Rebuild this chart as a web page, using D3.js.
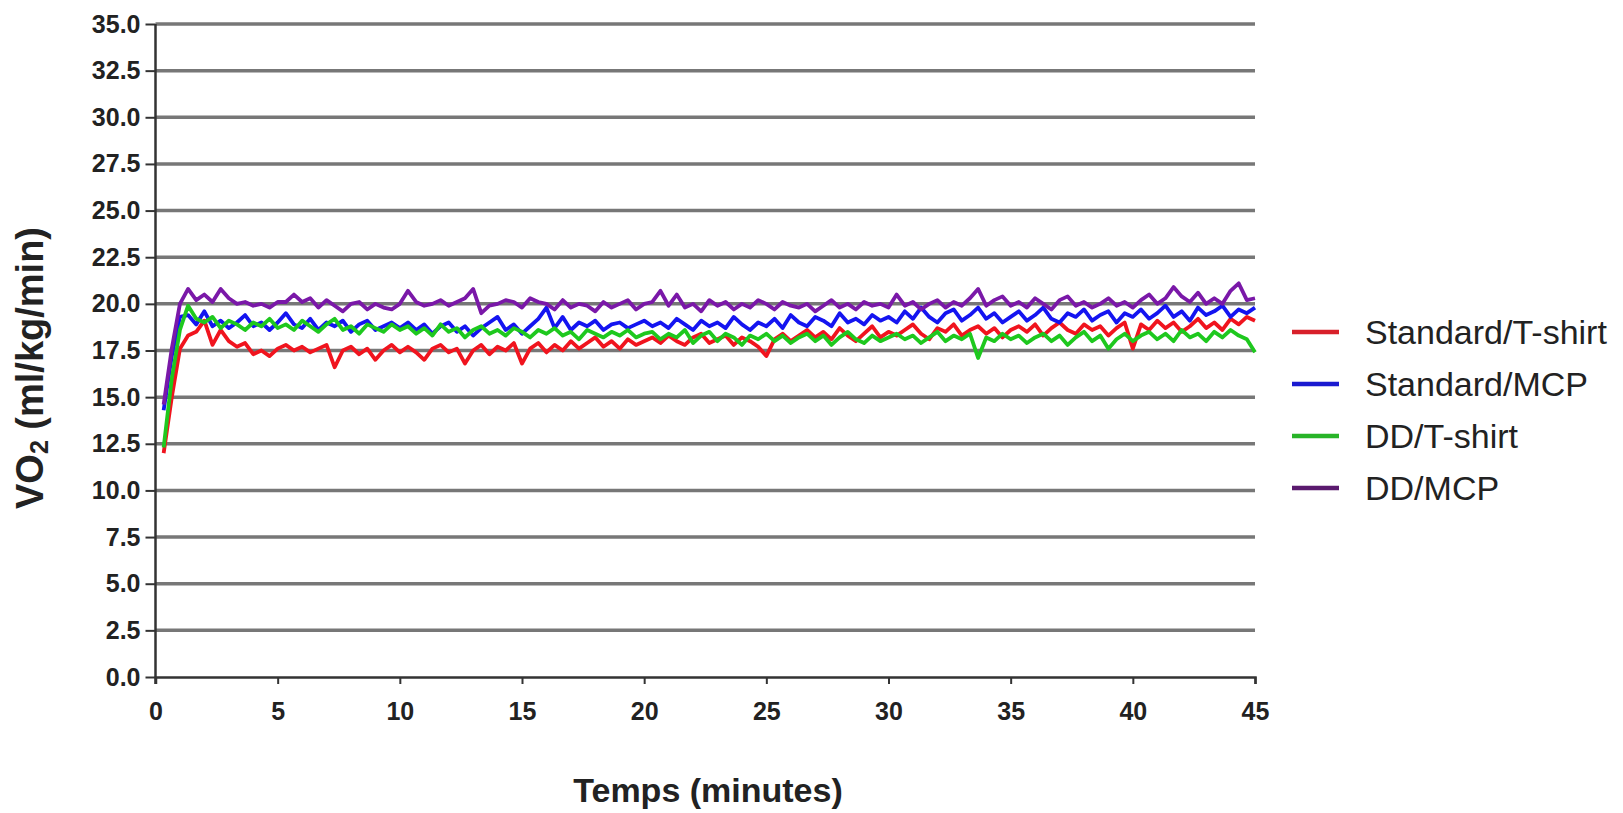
<!DOCTYPE html>
<html>
<head>
<meta charset="utf-8">
<script src="https://cdn.jsdelivr.net/npm/d3@7"></script>
<style>
  body { margin: 0; background: #fff; }
  svg { display: block; font-family: "Liberation Sans", Arial, sans-serif; }
</style>
</head>
<body>
<svg id="chart" width="1623" height="813"></svg>
<script>
// series names and colours, in drawing order
var seriesNames = ['Standard/T-shirt', 'Standard/MCP', 'DD/T-shirt', 'DD/MCP'];
var lineColors = ['#f0141e', '#1414f0', '#1ec81e', '#7a18a8'];
var legendColors = ['#d8202a', '#1a1ad0', '#28b428', '#5a1a6e'];

// one sample every 20 s, from 0.33 to 45 min
var times = d3.range(1, 136).map(function(i) { return i / 3; });

var standardTshirt = [
  12.0, 15.0, 17.6, 18.3, 18.5, 19.1, 17.8, 18.6, 18.0, 17.7, 17.9, 17.3, 17.5, 17.2, 17.6,
  17.8, 17.5, 17.7, 17.4, 17.6, 17.8, 16.6, 17.5, 17.7, 17.3, 17.6, 17.0, 17.5, 17.8, 17.4,
  17.7, 17.4, 17.0, 17.6, 17.8, 17.4, 17.6, 16.8, 17.5, 17.8, 17.3, 17.7, 17.5, 17.9, 16.8,
  17.6, 17.9, 17.4, 17.8, 17.5, 18.0, 17.6, 17.9, 18.2, 17.7, 18.0, 17.6, 18.1, 17.8, 18.0,
  18.2, 17.9, 18.3, 18.0, 17.8, 18.2, 18.4, 17.9, 18.1, 18.3, 17.8, 18.2, 18.0, 17.7, 17.2,
  18.1, 18.4, 18.0, 18.3, 18.6, 18.2, 18.5, 18.1, 18.7, 18.3, 18.0, 18.4, 18.8, 18.2, 18.5,
  18.3, 18.6, 18.9, 18.4, 18.1, 18.7, 18.5, 18.9, 18.3, 18.6, 18.8, 18.4, 18.7, 18.2, 18.6,
  18.8, 18.5, 18.9, 18.3, 18.7, 19.0, 18.6, 18.4, 18.9, 18.6, 18.8, 18.3, 18.7, 19.0, 17.6,
  18.9, 18.6, 19.1, 18.7, 19.0, 18.5, 18.8, 19.2, 18.7, 19.0, 18.6, 19.2, 18.9, 19.3, 19.1
];
var standardMcp = [
  14.3, 17.2, 19.3, 19.4, 18.9, 19.6, 18.8, 19.1, 18.7, 19.0, 19.4, 18.8, 19.0, 18.6, 19.0,
  19.5, 18.9, 18.7, 19.2, 18.6, 19.0, 18.8, 19.1, 18.5, 18.9, 19.1, 18.6, 18.8, 19.0, 18.7,
  19.0, 18.6, 18.9, 18.4, 18.8, 19.0, 18.5, 18.8, 18.3, 18.7, 19.0, 19.3, 18.6, 18.9, 18.4,
  18.8, 19.2, 19.8, 18.7, 19.3, 18.6, 19.0, 18.8, 19.1, 18.6, 18.9, 19.0, 18.7, 18.9, 19.1,
  18.8, 19.0, 18.7, 19.2, 18.9, 18.6, 19.1, 18.8, 19.0, 18.7, 19.3, 18.9, 18.6, 19.0, 18.8,
  19.2, 18.7, 19.4, 19.0, 18.8, 19.3, 19.1, 18.8, 19.5, 19.0, 19.2, 18.9, 19.4, 19.1, 19.3,
  19.0, 19.6, 19.2, 19.8, 19.3, 19.0, 19.5, 19.7, 19.1, 19.4, 19.8, 19.2, 19.5, 19.0, 19.3,
  19.6, 19.1, 19.4, 19.8, 19.2, 19.0, 19.5, 19.3, 19.7, 19.1, 19.4, 19.6, 19.0, 19.5, 19.3,
  19.7, 19.2, 19.5, 19.9, 19.3, 19.6, 19.1, 19.8, 19.4, 19.6, 19.9, 19.3, 19.7, 19.5, 19.8
];
var ddTshirt = [
  12.3, 16.0, 18.6, 19.9, 19.2, 19.0, 19.3, 18.7, 19.1, 18.9, 18.6, 19.0, 18.8, 19.2, 18.7,
  18.9, 18.6, 19.1, 18.8, 18.5, 18.9, 19.2, 18.6, 18.8, 18.4, 18.9, 18.7, 18.5, 18.9, 18.6,
  18.8, 18.4, 18.7, 18.3, 18.9, 18.5, 18.7, 18.2, 18.6, 18.8, 18.4, 18.6, 18.3, 18.7, 18.5,
  18.2, 18.6, 18.4, 18.7, 18.3, 18.5, 18.1, 18.6, 18.4, 18.2, 18.5, 18.3, 18.6, 18.2, 18.4,
  18.5, 18.1, 18.4, 18.2, 18.6, 17.9, 18.3, 18.5, 18.0, 18.4, 18.2, 17.8, 18.3, 18.1, 18.4,
  18.0, 18.3, 17.9, 18.2, 18.4, 18.0, 18.3, 17.8, 18.2, 18.5, 18.1, 17.9, 18.3, 18.0, 18.2,
  18.4, 18.1, 18.3, 17.9, 18.2, 18.5, 18.0, 18.3, 18.1, 18.4, 17.1, 18.2, 18.0, 18.4, 18.1,
  18.3, 17.9, 18.2, 18.4, 18.0, 18.3, 17.8, 18.2, 18.5, 18.0, 18.3, 17.6, 18.1, 18.4, 18.0,
  18.3, 18.5, 18.1, 18.4, 18.0, 18.6, 18.2, 18.4, 18.0, 18.5, 18.2, 18.6, 18.3, 18.1, 17.4
];
var ddMcp = [
  14.6, 17.6, 20.0, 20.8, 20.2, 20.5, 20.1, 20.8, 20.3, 20.0, 20.1, 19.9, 20.0, 19.8, 20.1,
  20.1, 20.5, 20.1, 20.3, 19.8, 20.2, 19.9, 19.6, 20.0, 20.1, 19.7, 20.0, 19.8, 19.7, 20.0,
  20.7, 20.1, 19.9, 20.0, 20.2, 19.9, 20.1, 20.3, 20.8, 19.5, 19.9, 20.0, 20.2, 20.1, 19.8,
  20.3, 20.1, 20.0, 19.7, 20.2, 19.8, 20.0, 19.9, 19.6, 20.1, 19.8, 20.0, 20.2, 19.7, 20.0,
  20.1, 20.7, 19.9, 20.5, 19.8, 20.0, 19.6, 20.2, 19.9, 20.1, 19.7, 20.0, 19.8, 20.2, 20.0,
  19.7, 20.1, 19.9, 19.8, 20.0, 19.6, 19.9, 20.2, 19.8, 20.0, 19.7, 20.1, 19.9, 20.0, 19.8,
  20.5, 19.9, 20.1, 19.7, 20.0, 20.2, 19.8, 20.1, 19.9, 20.3, 20.8, 19.9, 20.2, 20.4, 19.9,
  20.1, 19.8, 20.3, 20.0, 19.7, 20.2, 20.4, 19.9, 20.1, 19.8, 20.0, 20.3, 19.9, 20.1, 19.8,
  20.2, 20.5, 20.0, 20.3, 20.9, 20.4, 20.1, 20.6, 20.0, 20.3, 20.0, 20.7, 21.1, 20.2, 20.3
];
var seriesValues = [standardTshirt, standardMcp, ddTshirt, ddMcp];

var yTicks = d3.range(0, 36, 2.5);
var xTicks = [0, 5, 10, 15, 20, 25, 30, 35, 40, 45];

var svg = d3.select('#chart');
var margin = { left: 155.5, right: 1255, top: 24, bottom: 677 };

var x = d3.scaleLinear().domain([0, 45]).range([margin.left, margin.right]);
var y = d3.scaleLinear().domain([0, 35]).range([margin.bottom, margin.top]);

// horizontal grid lines
svg.append('g').selectAll('line')
  .data(yTicks.filter(function(d) { return d > 0; }))
  .enter().append('line')
  .attr('x1', margin.left).attr('x2', margin.right)
  .attr('y1', function(d) { return y(d); })
  .attr('y2', function(d) { return y(d); })
  .attr('stroke', '#777')
  .attr('stroke-width', 3.5);

// y axis
var yAxis = svg.append('g')
  .attr('transform', 'translate(' + margin.left + ',0)')
  .call(d3.axisLeft(y).tickValues(yTicks).tickFormat(d3.format('.1f')).tickSize(10).tickPadding(5));

// x axis
var xAxis = svg.append('g')
  .attr('transform', 'translate(0,' + margin.bottom + ')')
  .call(d3.axisBottom(x).tickValues(xTicks).tickSize(7).tickPadding(18));

[yAxis, xAxis].forEach(function(axis) {
  axis.select('.domain').attr('stroke', '#333').attr('stroke-width', 2.5);
  axis.selectAll('.tick line').attr('stroke', '#333').attr('stroke-width', 2);
  axis.selectAll('.tick text')
    .attr('fill', '#222')
    .style('font-family', '"Liberation Sans", Arial, sans-serif')
    .style('font-weight', 'bold');
});
yAxis.selectAll('.tick text').style('font-size', '25px');
xAxis.selectAll('.tick text').style('font-size', '25px');
// y axis line runs a little below the x axis, like the tick at 0
yAxis.select('.domain').attr('d', 'M0,' + margin.top + 'V' + (margin.bottom + 7));

// data lines
var line = d3.line()
  .x(function(d) { return x(d[0]); })
  .y(function(d) { return y(d[1]); });

svg.append('g').selectAll('path')
  .data(seriesValues)
  .enter().append('path')
  .attr('d', function(vals) {
    return line(vals.map(function(v, i) { return [times[i], v]; }));
  })
  .attr('fill', 'none')
  .attr('stroke', function(d, i) { return lineColors[i]; })
  .attr('stroke-width', 3.8)
  .attr('stroke-linejoin', 'round');

// axis titles
svg.append('text')
  .attr('x', 708).attr('y', 802)
  .attr('text-anchor', 'middle')
  .style('font-size', '34px').style('font-weight', 'bold')
  .attr('fill', '#222')
  .text('Temps (minutes)');

var yTitle = svg.append('text')
  .attr('transform', 'translate(43,368) rotate(-90)')
  .attr('text-anchor', 'middle')
  .style('font-size', '38px').style('font-weight', 'bold')
  .attr('fill', '#222');
yTitle.append('tspan').text('VO');
yTitle.append('tspan').attr('dy', 5).style('font-size', '25px').text('2');
yTitle.append('tspan').attr('dy', -5).text(' (ml/kg/min)');

// legend
var legend = svg.append('g').selectAll('g')
  .data(seriesNames)
  .enter().append('g')
  .attr('transform', function(d, i) { return 'translate(1292,' + (332 + i * 52) + ')'; });
legend.append('line')
  .attr('x1', 0).attr('x2', 47)
  .attr('stroke', function(d, i) { return legendColors[i]; })
  .attr('stroke-width', 4.5);
legend.append('text')
  .attr('x', 73).attr('y', 12)
  .style('font-size', '34px')
  .attr('fill', '#222')
  .text(function(d) { return d; });
</script>
</body>
</html>
